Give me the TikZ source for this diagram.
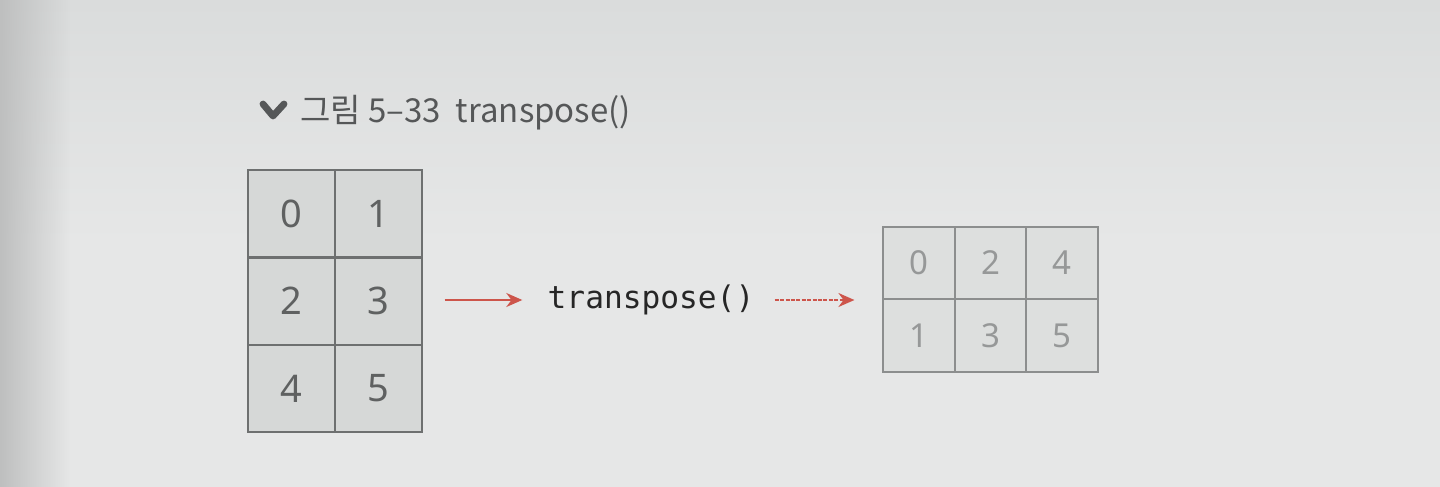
\documentclass[tikz,border=0pt]{standalone}
\usepackage{fontspec}
\setmainfont{Noto Sans}
\newfontfamily\krfont{Noto Sans CJK KR}
\newfontfamily\monofont{DejaVu Sans Mono}
\usetikzlibrary{arrows.meta,fadings}
\tikzfading[name=gutterfade, left color=transparent!0, right color=transparent!100]
\definecolor{paper}{RGB}{230,231,231}
\definecolor{papertop}{RGB}{218,220,220}
\definecolor{paperdark}{RGB}{190,191,191}
\definecolor{cellL}{RGB}{214,216,215}
\definecolor{cellR}{RGB}{221,223,222}
\definecolor{lineL}{RGB}{110,112,112}
\definecolor{lineR}{RGB}{140,142,142}
\definecolor{inkL}{RGB}{95,97,97}
\definecolor{inkR}{RGB}{150,152,152}
\definecolor{arrred}{RGB}{205,85,75}
\definecolor{titleink}{RGB}{85,87,88}
\tikzset{
  cellbig/.style={draw=lineL, line width=1pt, fill=cellL, text=inkL,
    minimum width=43.5pt, minimum height=43.5pt, inner sep=0pt,
    font=\fontsize{19}{19}\selectfont},
  cellsmall/.style={draw=lineR, line width=0.8pt, fill=cellR, text=inkR,
    minimum width=35.8pt, minimum height=36.2pt, inner sep=0pt,
    font=\fontsize{16.5}{16.5}\selectfont},
  redarrow/.style={draw=arrred, line width=1pt, -{Stealth[length=8pt,width=7pt]}},
  redarrowdash/.style={redarrow, line width=0.8pt, dash pattern=on 2pt off 0.7pt},
}
\begin{document}
\begin{tikzpicture}[x=0.5pt,y=-0.5pt]
\useasboundingbox (0,0) rectangle (1440,487);
\shade[top color=papertop, bottom color=paper, middle color=paper] (0,0) rectangle (1440,487);
\fill[paperdark, path fading=gutterfade, fit fading=true] (0,0) rectangle (70,487);

% title
\draw[titleink, line width=3.4pt, line cap=round, line join=round] (263,104) -- (273,116) -- (284,104);
\node[anchor=base west, inner sep=0pt, text=titleink, font=\krfont\fontsize{16.5}{16.5}\selectfont] (title) at (300,122) {그림 5–33\ \ transpose()};

% left grid
\node[cellbig] (a0) at (291,213.5) {0};
\node[cellbig] (a1) at (378,213.5) {1};
\node[cellbig] (a2) at (291,301) {2};
\node[cellbig] (a3) at (378,301) {3};
\node[cellbig] (a4) at (291,388.5) {4};
\node[cellbig] (a5) at (378,388.5) {5};

% middle label
\node[inner sep=0pt, text=black!85, font=\monofont\fontsize{15.6}{15.6}\selectfont] (t) at (651,300) {transpose()};

% right grid
\node[cellsmall] (b0) at (919,263) {0};
\node[cellsmall] (b2) at (990.5,263) {2};
\node[cellsmall] (b4) at (1062,263) {4};
\node[cellsmall] (b1) at (919,335.5) {1};
\node[cellsmall] (b3) at (990.5,335.5) {3};
\node[cellsmall] (b5) at (1062,335.5) {5};

\coordinate (s1) at ([xshift=11pt]a3.east);
\coordinate (e1) at ([xshift=-12.5pt]t.west);
\coordinate (s2) at ([xshift=10pt]t.east);
\coordinate (e2) at ([xshift=-14pt]b0.west |- t.west);
\draw[redarrow] (s1 |- t.west) -- (e1);
\draw[redarrowdash] (s2) -- (e2);
\end{tikzpicture}
\end{document}
